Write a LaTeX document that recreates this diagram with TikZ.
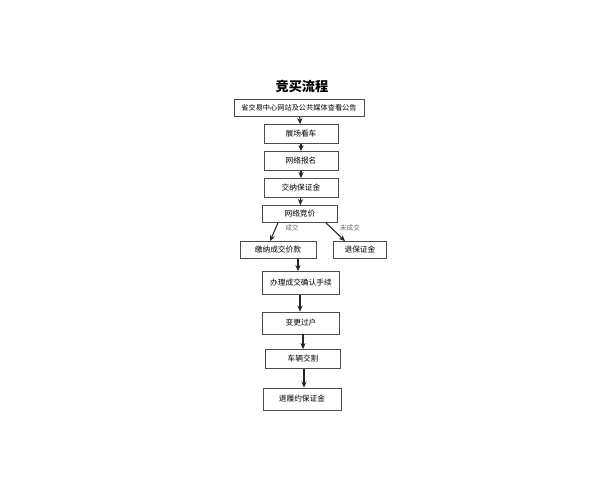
\documentclass[tikz,border=0pt]{standalone}
\usepackage{fontspec}
\setmainfont{Noto Sans CJK SC}
\usetikzlibrary{arrows.meta}
\begin{document}
\begin{tikzpicture}
  [x=0.02cm,y=-0.02cm,
   stepbox/.style={draw=black!70,fill=white,inner sep=0pt,font=\fontsize{4.4}{5}\selectfont},
   flow/.style={-{Stealth[length=3.5pt,width=3pt]},black!85,semithick},
   tag/.style={font=\fontsize{3.8}{4}\selectfont,text=black!60}]
  \useasboundingbox (0,0) rectangle (600,480);
  \node[font=\fontsize{7.5}{8}\selectfont\bfseries] (title) at (302,86) {竞买流程};
  \node[stepbox,font=\fontsize{4.1}{5}\selectfont,minimum width=130*0.02cm,minimum height=17*0.02cm] (n1) at (299,108) {省交易中心网站及公共媒体查看公告};
  \node[stepbox,minimum width=74*0.02cm,minimum height=19*0.02cm] (n2) at (301,134) {展场看车};
  \node[stepbox,minimum width=74*0.02cm,minimum height=19*0.02cm] (n3) at (301,161) {网络报名};
  \node[stepbox,minimum width=74*0.02cm,minimum height=19*0.02cm] (n4) at (301,188) {交纳保证金};
  \node[stepbox,minimum width=75*0.02cm,minimum height=17*0.02cm] (n5) at (300,214) {网络竞价};
  \node[stepbox,minimum width=76*0.02cm,minimum height=17*0.02cm] (n6) at (278,250) {缴纳成交价款};
  \node[stepbox,minimum width=53*0.02cm,minimum height=17*0.02cm] (n7) at (360,250) {退保证金};
  \node[stepbox,minimum width=77*0.02cm,minimum height=23*0.02cm] (n8) at (301,283) {办理成交确认手续};
  \node[stepbox,minimum width=77*0.02cm,minimum height=22*0.02cm] (n9) at (301,323) {变更过户};
  \node[stepbox,minimum width=75*0.02cm,minimum height=19*0.02cm] (n10) at (303,359) {车辆交割};
  \node[stepbox,minimum width=78*0.02cm,minimum height=22*0.02cm] (n11) at (302,399) {退履约保证金};

  \foreach \from/\to in {n1/n2,n2/n3,n3/n4,n4/n5}
    \draw[flow] (\from) -- (\to);
  \draw[flow] (n6.south -| 298,0) -- (n8.north -| 298,0);
  \draw[flow] (n8.south -| 300,0) -- (n9.north -| 300,0);
  \draw[flow] (n9.south -| 303,0) -- (n10.north -| 303,0);
  \draw[flow] (n10.south -| 304,0) -- (n11.north -| 304,0);
  \draw[flow] (n5.south -| 278,0) -- (n6.north -| 270,0);
  \draw[flow] (n5.south -| 326,0) -- (n7.north -| 345,0);
  \node[tag] (deal) at (292,228) {成交};
  \node[tag] (nodeal) at (350,228) {未成交};
\end{tikzpicture}
\end{document}
